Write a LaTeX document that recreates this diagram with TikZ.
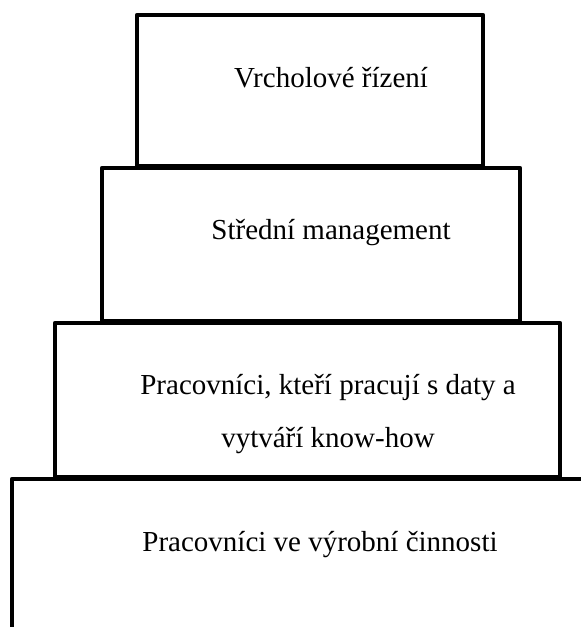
\documentclass[tikz,border=0pt]{standalone}
\usepackage{fontspec}
\setmainfont{Liberation Serif}
\begin{document}
\begin{tikzpicture}[x=1pt,y=-1pt,
  tier/.style={draw=black, line width=4.5pt, line join=round, inner sep=0pt,
    outer sep=0pt, anchor=north west, rectangle},
  caption/.style={font=\fontsize{29}{53}\selectfont, align=center, inner sep=0pt}]
\useasboundingbox (0,0) rectangle (581,627);
\clip (0,0) rectangle (581,627);
% four stacked tiers of the pyramid, widest at the bottom
\node[tier, minimum width=346pt, minimum height=151pt] (tier1) at (137,15) {};
\node[tier, minimum width=418pt, minimum height=153pt] (tier2) at (102,168) {};
\node[tier, minimum width=505pt, minimum height=154pt] (tier3) at (55,323) {};
\node[tier, minimum width=650pt, minimum height=250pt] (tier4) at (12,479) {};
% tier labels
\node[caption] (t1) at (331,78) {Vrcholové řízení};
\node[caption] (t2) at (331,233) {Střední management};
\node[caption] (t3) at (328,414) {Pracovníci, kteří pracují s daty a\\vytváří know-how};
\node[caption] (t4) at (320,545) {Pracovníci ve výrobní činnosti};
\end{tikzpicture}
\end{document}
